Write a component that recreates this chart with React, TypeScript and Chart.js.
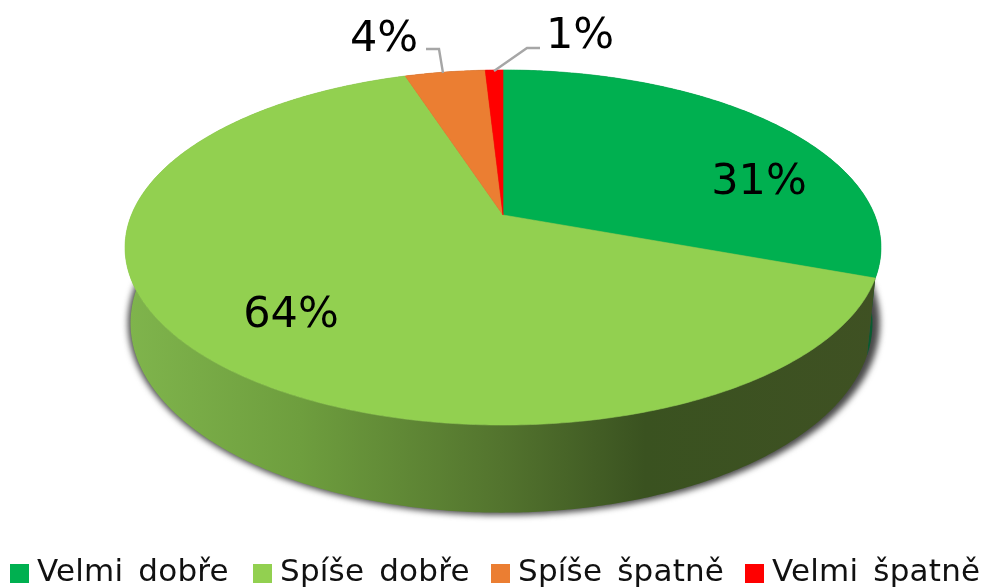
import React, { useEffect, useRef } from "react";
import { Chart, registerables } from "chart.js";

Chart.register(...registerables);

const categories = ["Velmi dobře", "Spíše dobře", "Spíše špatně", "Velmi špatně"];
const shares = [30.6, 64.4, 4.1, 0.9];
const faceColors = ["#00B050", "#92D050", "#EB7E32", "#FF0000"];
const sideColors = ["#0A5A30", "", "#7A3F18", "#800000"];
const sideStops: [number, string][] = [
  [130, "#7FB44C"],
  [300, "#6E9E3E"],
  [500, "#53742E"],
  [645, "#3A5220"],
  [880, "#3F5123"],
];

const FONT = '"DejaVu Sans"';
const TILT = 0.183;
type Geo = { dx: number; y0: number; rx: number; ry: number };
const TOP: Geo = { dx: 11, y0: 215, rx: 371.6, ry: 171.6 };
const BOTTOM: Geo = { dx: 9.5, y0: 288.4, rx: 364.7, ry: 183.2 };
const SHADOW: Geo = { dx: 12, y0: 287.9, rx: 369.6, ry: 185.6 };

const project = (g: Geo, cx: number, a: number): [number, number] => {
  const t = a + Math.PI / 2;
  const u = Math.sin(t);
  const v = -Math.cos(t);
  const w = 1 / (1 - TILT * v);
  return [cx + g.dx + g.rx * u * w, g.y0 + g.ry * v * w];
};

const trace = (ctx: CanvasRenderingContext2D, g: Geo, cx: number, a0: number, a1: number, move: boolean) => {
  const n = Math.max(2, Math.ceil(Math.abs(a1 - a0) / 0.01));
  for (let i = 0; i <= n; i++) {
    const [x, y] = project(g, cx, a0 + ((a1 - a0) * i) / n);
    if (i === 0 && move) ctx.moveTo(x, y);
    else ctx.lineTo(x, y);
  }
};

const labelOffsets: [number, number][] = [
  [759, 183],
  [291, 316],
  [384, 40],
  [580, 37],
];
const leaders: [number, number][][] = [
  [],
  [],
  [[426, 49], [439, 49], [443, 73]],
  [[540, 48], [527, 48], [494, 71]],
];
const legendBoxLefts = [10, 253, 491, 745];

const pie3d = {
  id: "pie3d",
  beforeDatasetDraw(chart: any) {
    const ctx: CanvasRenderingContext2D = chart.ctx;
    const arcs = chart.getDatasetMeta(0).data as any[];
    const cx = arcs[0].x;
    ctx.save();
    ctx.filter = "blur(3px)";
    ctx.fillStyle = "#484848";
    ctx.beginPath();
    trace(ctx, SHADOW, cx, 0, Math.PI * 2, true);
    ctx.closePath();
    ctx.fill();
    ctx.filter = "none";

    const grad = ctx.createLinearGradient(130, 0, 880, 0);
    sideStops.forEach(([x, c]) => grad.addColorStop((x - 130) / 750, c));
    arcs.forEach((arc, i) => {
      ctx.beginPath();
      trace(ctx, TOP, cx, arc.startAngle, arc.endAngle, true);
      trace(ctx, BOTTOM, cx, arc.endAngle, arc.startAngle, false);
      ctx.closePath();
      ctx.fillStyle = sideColors[i] || grad;
      ctx.fill();
    });
    arcs.forEach((arc, i) => {
      ctx.beginPath();
      ctx.moveTo(cx + TOP.dx, TOP.y0);
      trace(ctx, TOP, cx, arc.startAngle, arc.endAngle, false);
      ctx.closePath();
      ctx.fillStyle = faceColors[i];
      ctx.fill();
      ctx.strokeStyle = faceColors[i];
      ctx.lineWidth = 0.6;
      ctx.stroke();
    });
    ctx.restore();
    return false;
  },
  afterDatasetsDraw(chart: any) {
    const ctx: CanvasRenderingContext2D = chart.ctx;
    const values = chart.data.datasets[0].data as number[];
    const total = values.reduce((s, v) => s + v, 0);
    ctx.save();
    ctx.strokeStyle = "#A6A6A6";
    ctx.lineWidth = 2.4;
    leaders.forEach((pts) => {
      if (!pts.length) return;
      ctx.beginPath();
      pts.forEach((p, i) => (i ? ctx.lineTo(p[0], p[1]) : ctx.moveTo(p[0], p[1])));
      ctx.stroke();
    });
    ctx.fillStyle = "#000";
    ctx.font = `43px ${FONT}`;
    ctx.textAlign = "center";
    ctx.textBaseline = "middle";
    values.forEach((v, i) => {
      ctx.fillText(`${Math.round((v / total) * 100)}%`, labelOffsets[i][0], labelOffsets[i][1]);
    });

    ctx.textAlign = "left";
    ctx.font = `31px ${FONT}`;
    (ctx as any).letterSpacing = "0.2px";
    (ctx as any).wordSpacing = "5px";
    (chart.data.labels as string[]).forEach((text, i) => {
      ctx.fillStyle = faceColors[i];
      ctx.fillRect(legendBoxLefts[i], 564, 19, 19);
      ctx.fillStyle = "#111";
      ctx.fillText(text, legendBoxLefts[i] + 27, 572.5);
    });
    ctx.restore();
  },
};

export default function App() {
  const ref = useRef<HTMLCanvasElement>(null);
  useEffect(() => {
    const chart = new Chart(ref.current!, {
      type: "pie",
      data: {
        labels: categories,
        datasets: [{ data: shares, backgroundColor: faceColors, borderWidth: 0 }],
      },
      options: {
        responsive: false,
        animation: false,
        plugins: { legend: { display: false }, tooltip: { enabled: false } },
      },
      plugins: [pie3d],
    } as any);
    return () => chart.destroy();
  }, []);
  return (
    <canvas
      ref={ref}
      width={984}
      height={588}
      style={{ position: "absolute", left: 0, top: 0, width: 984, height: 588 }}
    />
  );
}
